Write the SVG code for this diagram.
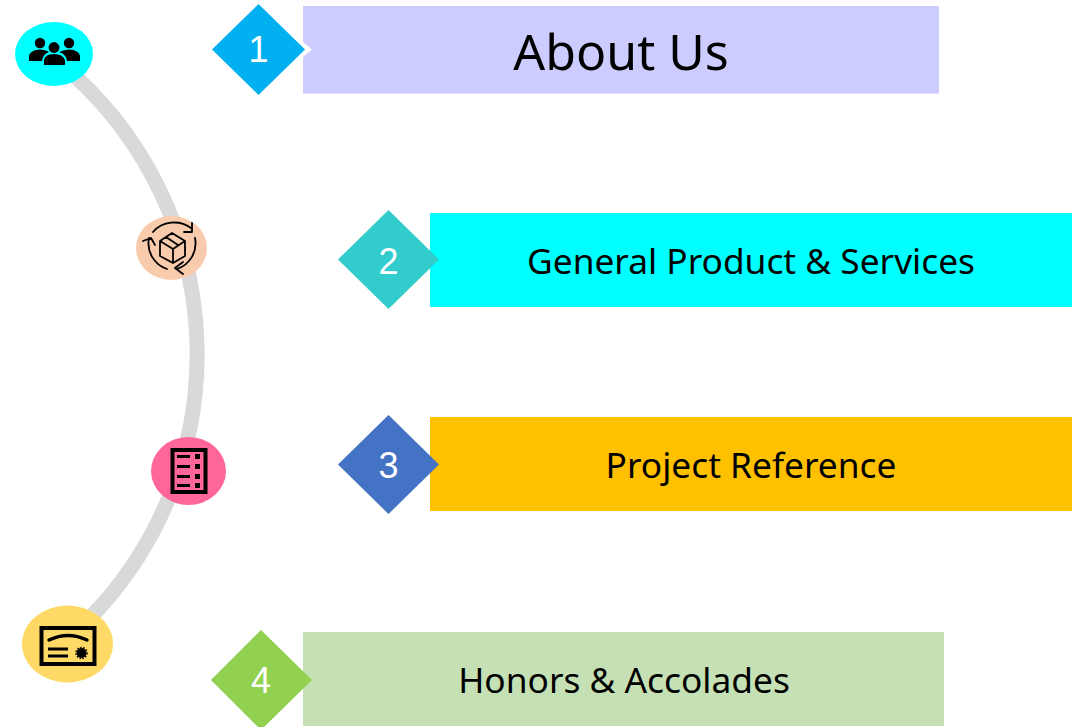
<svg xmlns="http://www.w3.org/2000/svg" width="1077" height="727" viewBox="0 0 1077 727">
<style>
.num{font-family:"Liberation Sans",Arial,sans-serif;font-size:36px;fill:#fff;text-anchor:middle}
.lab{font-family:"Noto Sans","Open Sans",sans-serif;fill:#000;text-anchor:middle}
.ln{fill:none;stroke:#000;stroke-width:1.8;stroke-linecap:round;stroke-linejoin:round}
.bl{fill:none;stroke:#000}
</style>
<rect width="1077" height="727" fill="#fff"/>
<g id="connectors"><path d="M76 77A378 378 0 0 1 89 619" fill="none" stroke="#d9d9d9" stroke-width="15"/></g>
<g id="icon-users">
<ellipse cx="54" cy="54" rx="39" ry="32" fill="#00ffff"/>
<circle cx="40" cy="43" r="5.200"/><circle cx="69" cy="43" r="5.200"/><circle cx="54" cy="47.500" r="5.400"/>
<path d="M29 61V56Q30 50 40 49.500Q46 50 49 52Q43 54 42 61ZM80 61V56Q79 50 69 49.500Q63 50 59 52Q66 54 67 61ZM44 65V60Q45 54 54 54Q63 54 65 60V65Z"/>
</g>
<g id="icon-box">
<ellipse cx="171.500" cy="248" rx="35.500" ry="32" fill="#f8cbad"/>
<path class="ln" d="M153 232A27 25 0 0 1 191 228M192 223V232H184M195 238A27 27 0 0 1 177 269M183 262L175 268L183 274M167 269A27 27 0 0 1 149 238M143 241L151 238L155 245"/>
<path class="ln" d="M172 233L160 241V256L173 263L185 256V241ZM160 241L173 249L185 241M173 249V263M166 237L178 245"/>
</g>
<g id="icon-list">
<ellipse cx="188.500" cy="471" rx="37.500" ry="34" fill="#ff6699"/>
<rect x="172.500" y="450" width="33" height="42" class="bl" stroke-width="4"/>
<path class="bl" stroke-width="3" d="M177 456.500H190M177 466.500H190M177 476.500H190M177 485.500H190"/>
<path d="M195 454h5v5h-5zM195 464h5v5h-5zM195 474h5v5h-5zM195 483h5v5h-5z"/>
</g>
<g id="icon-cert">
<ellipse cx="67.500" cy="644" rx="45.500" ry="38.500" fill="#ffd966"/>
<rect x="41.500" y="628" width="53" height="36" class="bl" stroke-width="4"/>
<path d="M49 640Q68 631 87 640" class="bl" stroke-width="3.500" stroke-linecap="round"/>
<path class="bl" stroke-width="3" d="M48 649H68M48 656H68"/>
<circle cx="81.500" cy="653" r="5"/>
<circle cx="81.500" cy="653" r="5.500" fill="none" stroke="#000" stroke-width="1.500" stroke-dasharray="1.500 1.500"/>
</g>
<g id="node-1">
<rect x="303" y="6" width="636" height="87.500" fill="#ccccff"/>
<path d="M303 42L312 49.500L303 57Z" fill="#fff"/>
<path d="M258.500 4L305 49.500L258.500 95L212 49.500Z" fill="#00b0f0"/>
<text class="num" x="258.500" y="62">1</text>
<text class="lab" x="621" y="70" font-size="50">About Us</text>
</g>
<g id="node-2">
<rect x="430" y="213" width="642" height="94" fill="#00ffff"/>
<path d="M388.500 210L439 259.500L388.500 309L338 259.500Z" fill="#33cccc"/>
<text class="num" x="388.500" y="274">2</text>
<text class="lab" x="751" y="274" font-size="35.300">General Product &amp; Services</text>
</g>
<g id="node-3">
<rect x="430" y="417" width="642" height="94" fill="#ffc000"/>
<path d="M388.500 415L439 464.500L388.500 514L338 464.500Z" fill="#4472c4"/>
<text class="num" x="388.500" y="478">3</text>
<text class="lab" x="751" y="478" font-size="35.300">Project Reference</text>
</g>
<g id="node-4">
<rect x="303" y="632" width="641" height="94" fill="#c5e0b4"/>
<path d="M261 630L312 680L261 730L211 680Z" fill="#92d050"/>
<text class="num" x="261" y="693">4</text>
<text class="lab" x="624" y="693" font-size="35.300">Honors &amp; Accolades</text>
</g>
</svg>
